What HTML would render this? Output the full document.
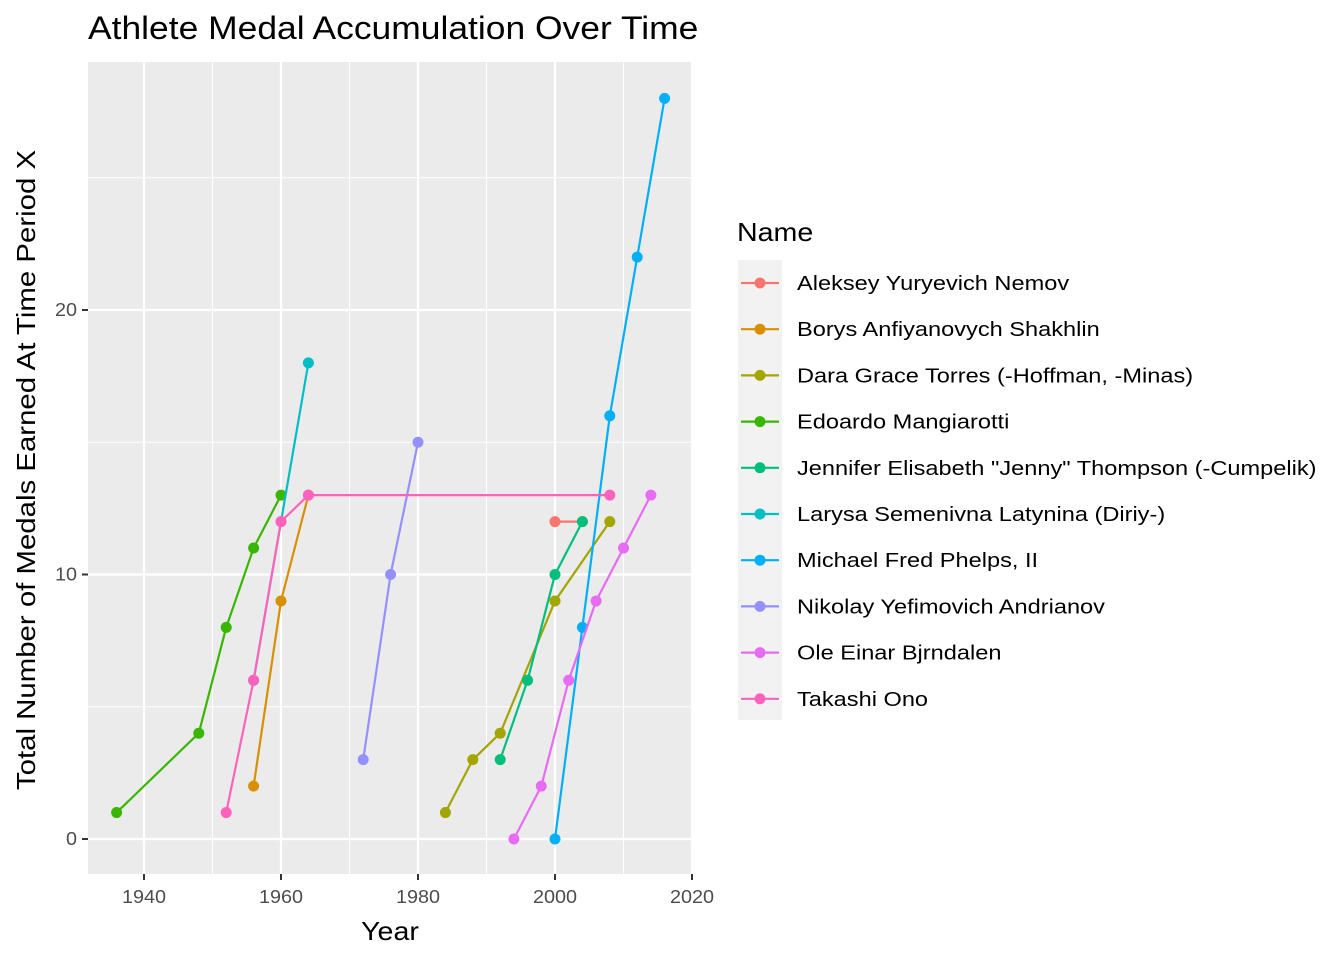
<!DOCTYPE html>
<html><head><meta charset="utf-8"><style>
body{margin:0;background:#fff;font-family:"Liberation Sans",Arial,sans-serif}
</style></head><body>
<svg id="chart" width="1344" height="960" xmlns="http://www.w3.org/2000/svg">
<text class="st" data-f="1.107" x="88" y="39" font-size="32" fill="#000">Athlete Medal Accumulation Over Time</text>
<rect x="88" y="62" width="604" height="812" fill="#EBEBEB"/>
<g id="grid"></g>
<g id="series"></g>
<g id="axes"></g>
<text class="st" data-f="1.1" x="390" y="940" font-size="26" text-anchor="middle">Year</text>
<text class="st" data-f="1.13" transform="translate(35,470) rotate(-90)" font-size="26" text-anchor="middle">Total Number of Medals Earned At Time Period X</text>
<text class="st" data-f="1.1" x="737" y="241" font-size="26">Name</text>
<g id="legend"></g>
</svg>
<script>
const names=["Aleksey Yuryevich Nemov","Borys Anfiyanovych Shakhlin","Dara Grace Torres (-Hoffman, -Minas)","Edoardo Mangiarotti","Jennifer Elisabeth \"Jenny\" Thompson (-Cumpelik)","Larysa Semenivna Latynina (Diriy-)","Michael Fred Phelps, II","Nikolay Yefimovich Andrianov","Ole Einar Bjrndalen","Takashi Ono"];
const colors=["#F8766D","#D89000","#A3A500","#39B600","#00BF7D","#00BFC4","#00B0F6","#9590FF","#E76BF3","#FF62BC"];
const years=[[2000,2004],[1956,1960,1964],[1984,1988,1992,2000,2008],[1936,1948,1952,1956,1960],[1992,1996,2000,2004],[1956,1960,1964],[2000,2004,2008,2012,2016],[1972,1976,1980],[1994,1998,2002,2006,2010,2014],[1952,1956,1960,1964,2008]];
const medals=[[12,12],[2,9,13],[1,3,4,9,12],[1,4,8,11,13],[3,6,10,12],[6,12,18],[0,8,16,22,28],[3,10,15],[0,2,6,9,11,13],[1,6,12,13,13]];
const xTicks=[1940,1960,1980,2000,2020];
const yTicks=[0,10,20];
const NS="http://www.w3.org/2000/svg";
const X=v=>144+(v-1940)*6.85;
const Y=v=>839-v*26.45;
function mk(p,tag,at){const e=document.createElementNS(NS,tag);for(const k in at)e.setAttribute(k,at[k]);p.appendChild(e);return e;}
const grid=document.getElementById('grid'),axes=document.getElementById('axes'),ser=document.getElementById('series'),leg=document.getElementById('legend');
for(let i=0;i<xTicks.length-1;i++){const m=(xTicks[i]+xTicks[i+1])/2;const l=mk(grid,'line',{x1:X(m),x2:X(m),y1:62,y2:874,stroke:'#fff','stroke-width':1});

}
mk(grid,'line',{x1:X(1930),x2:X(1930),y1:62,y2:874,stroke:'#fff','stroke-width':1});
for(let i=0;i<yTicks.length;i++){const m=yTicks[i]+5;const l=mk(grid,'line',{x1:88,x2:692,y1:Y(m),y2:Y(m),stroke:'#fff','stroke-width':1});

}
xTicks.forEach(t=>{const l=mk(grid,'line',{x1:X(t),x2:X(t),y1:62,y2:874,stroke:'#fff','stroke-width':2.2});


mk(axes,'line',{x1:X(t),x2:X(t),y1:874,y2:880,stroke:'#333','stroke-width':2});
const tx=mk(axes,'text',{x:X(t),y:903,'font-size':18,fill:'#4D4D4D','text-anchor':'middle',class:'st','data-f':'1.1'});tx.textContent=t;

});
yTicks.forEach(t=>{const l=mk(grid,'line',{x1:88,x2:692,y1:Y(t),y2:Y(t),stroke:'#fff','stroke-width':2.2});


mk(axes,'line',{x1:82,x2:88,y1:Y(t),y2:Y(t),stroke:'#333','stroke-width':2});
const tx=mk(axes,'text',{x:77,y:Y(t)+6,'font-size':18,fill:'#4D4D4D','text-anchor':'end',class:'st','data-f':'1.1'});tx.textContent=t;

});
names.forEach((n,i)=>{const pts=years[i].map((y,j)=>X(y)+','+Y(medals[i][j])).join(' ');
const pl=mk(ser,'polyline',{points:pts,fill:'none',stroke:colors[i],'stroke-width':2.2});


years[i].forEach((y,j)=>{const c=mk(ser,'circle',{cx:X(y),cy:Y(medals[i][j]),r:5.5,fill:colors[i]});

});});
mk(leg,'rect',{x:738,y:260,width:44,height:460,fill:'#F2F2F2'});
names.forEach((n,i)=>{const y=283+i*46.2;
const g=mk(leg,'g',{});


mk(g,'line',{x1:741,x2:779,y1:y,y2:y,stroke:colors[i],'stroke-width':2.2});
mk(g,'circle',{cx:760,cy:y,r:5.5,fill:colors[i]});
const t=mk(g,'text',{x:797,y:y+7,'font-size':20.5,fill:'#000',class:'st','data-f':'1.15'});t.textContent=n;});
document.querySelectorAll('.st').forEach(t=>{const w=t.getComputedTextLength();const f=parseFloat(t.getAttribute('data-f'));
t.setAttribute('textLength',w*f);t.setAttribute('lengthAdjust','spacingAndGlyphs');});
</script>
</body></html>
